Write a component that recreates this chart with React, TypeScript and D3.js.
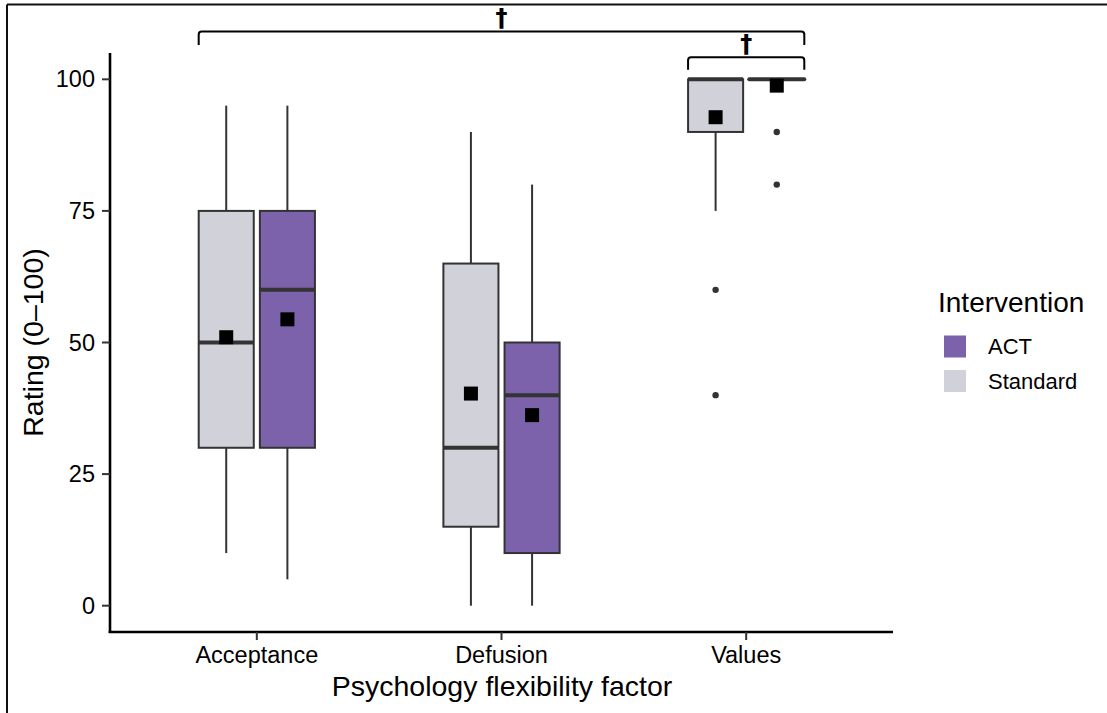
import React from "react";
import * as d3 from "d3";

const categories = ["Acceptance", "Defusion", "Values"];
const groups = ["Standard", "ACT"];
// [lower whisker, q1, median, q3, upper whisker]
const standardStats = [
  [10, 30, 50, 75, 95],
  [0, 15, 30, 65, 90],
  [75, 90, 100, 100, 100],
];
const actStats = [
  [5, 30, 60, 75, 95],
  [0, 10, 40, 50, 80],
  [100, 100, 100, 100, 100],
];
const standardMeans = [51, 40.3, 92.8];
const actMeans = [54.4, 36.2, 98.8];
const standardOutliers = [[], [], [60, 40]];
const actOutliers = [[], [], [90, 80]];
const yTicks = [0, 25, 50, 75, 100];
const legendOrder = ["ACT", "Standard"];
const colors: Record<string, string> = { Standard: "#d1d1da", ACT: "#7b62ab" };

const W = 1107;
const H = 713;
const FONT = "'Liberation Sans', Arial, Helvetica, sans-serif";

export default function App() {
  const x = d3.scalePoint<string>().domain(categories).range([110, 893]).padding(0.6);
  const step = x.step();
  const y = d3.scaleLinear().domain([-5, 105]).range([632, 53]);
  const dodge = 0.125 * step;
  const bw = 0.225 * step;

  const series = [
    { name: "Standard", stats: standardStats, means: standardMeans, out: standardOutliers, off: -dodge },
    { name: "ACT", stats: actStats, means: actMeans, out: actOutliers, off: dodge },
  ];
  const grey = "#333333";

  const bracket = (x1: number, x2: number, yTop: number, yTip: number) => {
    const r = 3;
    return `M${x1},${yTip} L${x1},${yTop + r} Q${x1},${yTop} ${x1 + r},${yTop} L${x2 - r},${yTop} Q${x2},${yTop} ${x2},${yTop + r} L${x2},${yTip}`;
  };
  const bigL = (x("Acceptance") as number) - dodge - bw / 2;
  const bigR = (x("Values") as number) + dodge + bw / 2;
  const smallL = (x("Values") as number) - dodge - bw / 2;

  return (
    <svg width={W} height={H} style={{ position: "absolute", left: 0, top: 0, background: "#fff" }} fontFamily={FONT}>
      <rect x={0} y={0} width={W} height={H} fill="#fff" />
      {/* frame */}
      <line x1={7} x2={W} y1={4.5} y2={4.5} stroke="#111" strokeWidth={2} />
      <line x1={7} x2={7} y1={4.5} y2={H} stroke="#111" strokeWidth={2} />

      {/* boxes */}
      {series.map((s) =>
        categories.map((c, i) => {
          const cx = (x(c) as number) + s.off;
          const [lo, q1, med, q3, hi] = s.stats[i];
          return (
            <g key={s.name + c}>
              <line x1={cx} x2={cx} y1={y(hi)} y2={y(q3)} stroke={grey} strokeWidth={2} />
              <line x1={cx} x2={cx} y1={y(q1)} y2={y(lo)} stroke={grey} strokeWidth={2} />
              {q3 > q1 && (
                <rect x={cx - bw / 2} y={y(q3)} width={bw} height={y(q1) - y(q3)} fill={colors[s.name]} stroke={grey} strokeWidth={2} />
              )}
              <line x1={cx - bw / 2} x2={cx + bw / 2} y1={y(med)} y2={y(med)} stroke={grey} strokeWidth={4} strokeLinecap={q3 > q1 ? "butt" : "round"} />
              {s.out[i].map((o, j) => (
                <circle key={j} cx={cx} cy={y(o)} r={3.2} fill={grey} />
              ))}
              <rect x={cx - 7} y={y(s.means[i]) - 7} width={14} height={14} fill="#000" />
            </g>
          );
        })
      )}

      {/* axes */}
      <line x1={110} x2={110} y1={53} y2={633} stroke="#000" strokeWidth={2.6} />
      <line x1={108.7} x2={893} y1={632} y2={632} stroke="#000" strokeWidth={2.6} />
      {yTicks.map((t) => (
        <g key={t}>
          <line x1={102} x2={110} y1={y(t)} y2={y(t)} stroke={grey} strokeWidth={2} />
          <text x={95} y={y(t) + 8} textAnchor="end" fontSize={23.5} fill="#000">
            {t}
          </text>
        </g>
      ))}
      {categories.map((c) => (
        <g key={c}>
          <line x1={x(c)} x2={x(c)} y1={632} y2={640} stroke={grey} strokeWidth={2} />
          <text x={x(c)} y={663} textAnchor="middle" fontSize={23.5} fill="#000">
            {c}
          </text>
        </g>
      ))}
      <text x={502} y={696} textAnchor="middle" fontSize={28.5} fill="#000">
        Psychology flexibility factor
      </text>
      <text transform={`translate(43,${y(50)}) rotate(-90)`} textAnchor="middle" fontSize={28.5} fill="#000">
        Rating (0–100)
      </text>

      {/* significance brackets */}
      <path d={bracket(bigL, bigR, y(109.1), y(106.5))} fill="none" stroke="#000" strokeWidth={2} />
      <text x={(bigL + bigR) / 2} y={y(109.1) - 5} textAnchor="middle" fontSize={24} fontWeight="bold" fontFamily="'DejaVu Sans', sans-serif" fill="#000">
        †
      </text>
      <path d={bracket(smallL, bigR, y(104.2), y(101.8))} fill="none" stroke="#000" strokeWidth={2} />
      <text x={(smallL + bigR) / 2} y={y(104.2) - 5} textAnchor="middle" fontSize={24} fontWeight="bold" fontFamily="'DejaVu Sans', sans-serif" fill="#000">
        †
      </text>

      {/* legend */}
      <text x={938} y={311.5} fontSize={28} fill="#000">
        Intervention
      </text>
      {legendOrder.map((g, i) => (
        <g key={g}>
          <rect x={944} y={335.5 + i * 34.5} width={22} height={22} fill={colors[g]} />
          <text x={988} y={354 + i * 34.5} fontSize={22} fill="#000">
            {g}
          </text>
        </g>
      ))}
    </svg>
  );
}
